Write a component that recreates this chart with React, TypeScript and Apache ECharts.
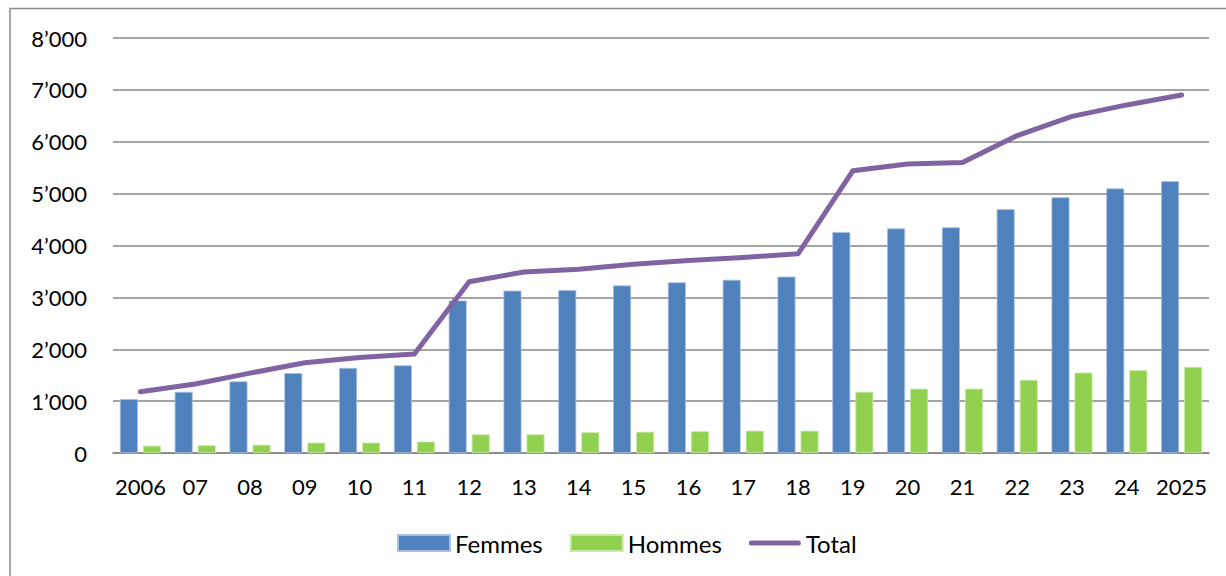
import React, { useEffect, useRef } from "react";
import * as echarts from "echarts";

const categories = ["2006", "07", "08", "09", "10", "11", "12", "13", "14", "15", "16", "17", "18", "19", "20", "21", "22", "23", "24", "2025"];
const femmes = [1040, 1180, 1380, 1540, 1640, 1690, 2940, 3130, 3140, 3230, 3290, 3340, 3400, 4260, 4330, 4350, 4700, 4930, 5100, 5240];
const hommes = [140, 150, 160, 200, 200, 220, 360, 360, 400, 410, 420, 430, 430, 1180, 1240, 1240, 1410, 1550, 1600, 1660];
const total = [1180, 1330, 1540, 1740, 1840, 1910, 3300, 3490, 3540, 3640, 3710, 3770, 3840, 5440, 5570, 5600, 6120, 6490, 6710, 6900];
const yTicks = [0, 1000, 2000, 3000, 4000, 5000, 6000, 7000, 8000];

const FONT = "Lato, 'Open Sans', sans-serif";

export default function App() {
  const ref = useRef<HTMLDivElement>(null);
  useEffect(() => {
    document.body.style.margin = "0";
    const chart = echarts.init(ref.current!, null, { renderer: "svg" });
    chart.setOption({
      animation: false,
      backgroundColor: "#ffffff",
      textStyle: { fontFamily: FONT, color: "#000" },
      graphic: [
        {
          type: "rect",
          shape: { x: 10, y: 8.5, width: 1240, height: 600 },
          style: { fill: "none", stroke: "#8a8a8a", lineWidth: 1.5 },
          silent: true,
        },
      ],
      grid: { left: 113, right: 17, top: 38, bottom: 123, containLabel: false },
      legend: {
        bottom: 16,
        left: 392,
        itemWidth: 52,
        itemHeight: 16,
        itemGap: 27,
        textStyle: { fontSize: 24, fontFamily: FONT, color: "#000" },
        data: [
          { name: "Femmes", icon: "rect" },
          { name: "Hommes", icon: "rect" },
          {
            name: "Total",
            icon: "path://M2.5,0 L49.5,0 A2.5,2.5 0 0 1 49.5,5 L2.5,5 A2.5,2.5 0 0 1 2.5,0 Z",
          },
        ],
      },
      xAxis: {
        type: "category",
        data: categories,
        axisTick: { show: false },
        axisLine: { lineStyle: { color: "#868686", width: 1.5 } },
        axisLabel: { fontSize: 22, color: "#000", margin: 22, fontFamily: FONT, interval: 0 },
      },
      yAxis: {
        type: "value",
        min: yTicks[0],
        max: yTicks[yTicks.length - 1],
        interval: 1000,
        axisLine: { show: false },
        axisTick: { show: false },
        splitLine: { lineStyle: { color: "#868686", width: 1.5 } },
        axisLabel: {
          fontSize: 22,
          color: "#000",
          margin: 26,
          fontFamily: FONT,
          formatter: (v: number) => (v === 0 ? "0" : `${v / 1000}’000`),
        },
      },
      series: [
        {
          name: "Femmes",
          type: "bar",
          data: femmes,
          barWidth: 18,
          barGap: "28%",
          itemStyle: { color: "#4F81BD", borderColor: "#a7c0e0", borderWidth: 0.8 },
        },
        {
          name: "Hommes",
          type: "bar",
          data: hommes,
          barWidth: 18,
          itemStyle: { color: "#92D050", borderColor: "#c8eaa8", borderWidth: 0.8 },
        },
        {
          name: "Total",
          type: "line",
          data: total,
          symbol: "none",
          z: 5,
          lineStyle: { color: "#8064A2", width: 5, cap: "round", join: "round" },
          itemStyle: { color: "#8064A2" },
        },
      ],
    });
    return () => chart.dispose();
  }, []);
  return <div ref={ref} style={{ width: 1226, height: 576 }} />;
}
